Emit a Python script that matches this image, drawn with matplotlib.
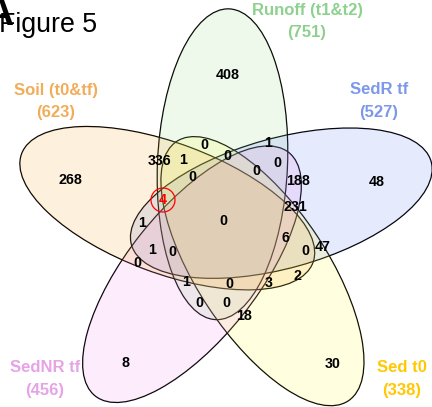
import numpy as np
import matplotlib
matplotlib.use("Agg")
import matplotlib.pyplot as plt
from matplotlib.patches import Ellipse, Circle

plt.rcParams['font.family'] = ['Liberation Sans', 'DejaVu Sans']

# sets, in drawing order (clockwise from the top)
set_names = ["Runoff (t1&t2)", "SedR tf", "Sed t0", "SedNR tf", "Soil (t0&tf)"]
set_totals = [751, 527, 338, 456, 623]
label_colors = ["#8ed18e", "#7d98e8", "#ffc800", "#e6a3e6", "#f0ad5a"]
fill_colors = ["#8ed780", "#5273f2", "#ffff30", "#eb80eb", "#f89b16"]

# region counts as printed in the diagram
region_counts = [408, 48, 268, 8, 30,
                 336, 1, 0, 0, 1, 0, 0, 188, 0, 4, 231,
                 0, 1, 6, 1, 0, 0, 0, 47,
                 1, 0, 3, 2, 0, 0, 18]
highlight = 14  # the circled "4"

# layout: where each count sits (pixels)
count_xy = [(228, 75), (377, 182), (70, 180), (125, 363), (333, 364),
            (160, 161), (183, 160), (204, 145), (227, 156), (268, 143),
            (277, 163), (256, 171), (298, 181), (192, 177), (163, 200),
            (295, 207), (223, 221), (142, 223), (285, 238), (152, 250),
            (172, 252), (137, 263), (305, 251), (323, 247),
            (186, 282), (229, 284), (269, 283), (298, 276),
            (199, 303), (226, 303), (244, 316)]
name_xy = [(307, 10), (379, 90), (402, 368), (45, 368), (56, 90)]

# ellipse geometry
cx, cy = 225.1, 224.2
dist, semi_a, semi_b = 60, 155.5, 65
theta0, rot0 = -2.5, 2.5

fig = plt.figure(figsize=(4.32, 4.07), dpi=100)
ax = fig.add_axes([0, 0, 1, 1])
ax.set_xlim(0, 432)
ax.set_ylim(407, 0)
ax.axis('off')

shapes = []
for k in range(5):
    th = np.radians(theta0 + 72 * k)
    ex = cx + dist * np.sin(th)
    ey = cy - dist * np.cos(th)
    shapes.append(((ex, ey), rot0 + 72 * k - 90))

# outlines first, then the translucent fills on top (interior lines fade)
for (c, ang) in shapes:
    ax.add_patch(Ellipse(c, 2 * semi_a, 2 * semi_b, angle=ang,
                         fill=False, edgecolor='black', lw=0.9, zorder=1))
for (c, ang), col in zip(shapes, fill_colors):
    fc = matplotlib.colors.to_rgba(col, 0.15)
    ax.add_patch(Ellipse(c, 2 * semi_a, 2 * semi_b, angle=ang,
                         facecolor=fc, edgecolor='none', zorder=2))

for i, (n, (x, y)) in enumerate(zip(region_counts, count_xy)):
    col = 'red' if i == highlight else 'black'
    ax.text(x, y, str(n), ha='center', va='center', fontsize=10.3,
            fontweight='bold', color=col, zorder=3)
hx, hy = count_xy[highlight]
ax.add_patch(Circle((hx, hy), 12, fill=False, edgecolor='red', lw=0.9,
                    zorder=3))

for name, tot, col, (x, y) in zip(set_names, set_totals, label_colors, name_xy):
    ax.text(x, y, name, ha='center', va='center', fontsize=12,
            fontweight='bold', color=col)
    ax.text(x, y + 22, "(%d)" % tot, ha='center', va='center', fontsize=12,
            fontweight='bold', color=col)

ax.text(-1, 32, "Figure 5", ha='left', va='baseline', fontsize=19.3)
ax.text(13, 25, "A", ha='right', va='baseline', fontsize=28,
        fontweight='bold')

fig.savefig("out.png", dpi=100)
